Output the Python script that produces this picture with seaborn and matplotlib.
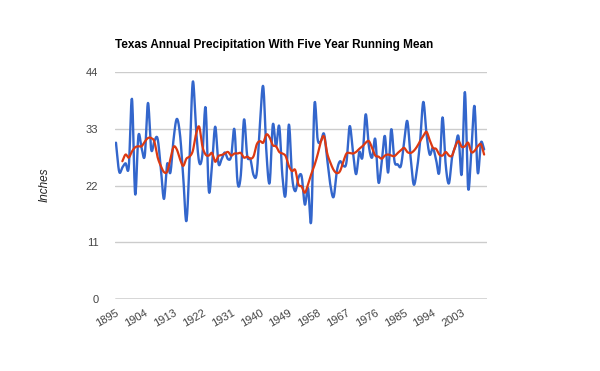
import numpy as np
import pandas as pd
import matplotlib
matplotlib.use("Agg")
import matplotlib.pyplot as plt
import seaborn as sns

years = list(range(1895, 2011))
precip = [30.3, 24.7, 25.5, 26.3, 25.6, 38.8, 20.3, 31.6, 29.3, 27.8,
          38.0, 29.0, 30.6, 31.1, 25.5, 19.4, 26.2, 24.5, 31.0, 34.9,
          31.9, 23.8, 15.1, 27.0, 42.1, 33.0, 26.5, 28.0, 37.1, 21.0,
          26.0, 33.4, 26.3, 27.1, 28.4, 27.1, 27.7, 32.9, 22.5, 24.0,
          34.8, 27.7, 27.1, 24.0, 24.5, 34.1, 41.2, 28.4, 22.5, 33.8,
          29.6, 33.5, 23.8, 20.3, 33.8, 23.8, 20.9, 23.5, 23.8, 18.3,
          21.5, 15.2, 37.7, 30.9, 30.6, 32.0, 27.0, 22.0, 19.8, 24.8,
          26.7, 25.8, 26.5, 33.5, 28.7, 24.2, 28.5, 27.5, 35.8, 29.6,
          27.4, 31.0, 22.6, 26.5, 31.6, 24.5, 32.9, 26.7, 26.1, 25.8,
          30.3, 34.5, 27.7, 22.2, 25.0, 30.5, 38.2, 32.0, 28.0, 29.3,
          27.0, 24.6, 35.2, 26.0, 22.4, 27.5, 29.5, 31.5, 24.2, 40.1,
          21.5, 28.7, 37.4, 24.5, 30.3, 29.0]
running_mean = [None, None, 26.7, 28.0, 27.4, 28.6, 29.4, 29.6, 29.6, 30.5,
                31.2, 31.2, 30.5, 27.5, 25.8, 24.6, 24.7, 27.1, 29.5, 29.0,
                27.1, 25.8, 27.2, 27.6, 28.7, 31.9, 33.4, 29.6, 28.0, 27.8,
                28.3, 26.6, 27.7, 27.9, 28.2, 28.5, 27.8, 28.2, 28.2, 28.3,
                27.4, 27.6, 27.2, 27.7, 30.0, 30.6, 30.3, 31.9, 31.3, 29.8,
                29.6, 28.5, 28.2, 27.7, 25.8, 24.8, 25.0, 22.2, 21.8, 20.6,
                22.2, 24.2, 25.9, 28.0, 30.5, 31.5, 28.2, 26.4, 25.0, 24.4,
                24.8, 26.6, 28.2, 28.3, 28.2, 28.5, 29.1, 29.6, 30.3, 30.6,
                29.3, 27.8, 27.6, 27.2, 27.8, 28.0, 27.8, 27.7, 28.3, 28.8,
                29.3, 28.5, 28.3, 28.7, 29.5, 30.6, 31.6, 32.4, 30.8, 29.3,
                29.1, 28.0, 27.8, 28.5, 27.8, 27.8, 29.6, 30.6, 29.5, 29.6,
                30.3, 28.5, 28.7, 29.6, 30.0, 28.0]
y_ticks = [0, 11, 22, 33, 44]
x_ticks = [1895, 1904, 1913, 1922, 1931, 1940, 1949, 1958, 1967, 1976, 1985, 1994, 2003]
title = "Texas Annual Precipitation With Five Year Running Mean"
y_label = "Inches"


def smooth(xs, ys, n=12):
    """Catmull-Rom rendering of a line through the given points (curved line style)."""
    xs = np.asarray(xs, float)
    ys = np.asarray(ys, float)
    px = np.concatenate([[2 * xs[0] - xs[1]], xs, [2 * xs[-1] - xs[-2]]])
    py = np.concatenate([[2 * ys[0] - ys[1]], ys, [2 * ys[-1] - ys[-2]]])
    ox, oy = [], []
    t = np.linspace(0, 1, n, endpoint=False)
    for i in range(1, len(px) - 2):
        for arr, out in ((px, ox), (py, oy)):
            p0, p1, p2, p3 = arr[i - 1], arr[i], arr[i + 1], arr[i + 2]
            out.extend(0.5 * ((2 * p1) + (-p0 + p2) * t +
                              (2 * p0 - 5 * p1 + 4 * p2 - p3) * t ** 2 +
                              (-p0 + 3 * p1 - 3 * p2 + p3) * t ** 3))
    ox.append(xs[-1])
    oy.append(ys[-1])
    return np.array(ox), np.array(oy)


df = pd.DataFrame({"year": years, "precip": precip,
                   "mean": pd.to_numeric(pd.Series(running_mean), errors="coerce")})

sns.set_theme(style="white")
plt.rcParams["font.family"] = ["Liberation Sans", "DejaVu Sans"]

fig = plt.figure(figsize=(6.0, 3.71), dpi=100)
ax = fig.add_axes([115 / 600, 1 - 299 / 371, 372 / 600, 227 / 371])

bx, by = smooth(df["year"], df["precip"])
sub = df.dropna(subset=["mean"])
rx, ry = smooth(sub["year"], sub["mean"])

sns.lineplot(x=bx, y=by, ax=ax, color="#3366cc", linewidth=1.7, sort=False,
             estimator=None, zorder=3)
sns.lineplot(x=rx, y=ry, ax=ax, color="#dc3912", linewidth=1.6, sort=False,
             estimator=None, zorder=4)

ax.set_xlim(1894.7, 2010.9)
ax.set_ylim(0, 44)
ax.set_yticks(y_ticks)
ax.set_xticks(x_ticks)
ax.set_xticklabels([str(v) for v in x_ticks], rotation=30, ha="right",
                   rotation_mode="anchor", fontsize=8, color="#444444")
ax.set_yticklabels([str(v) for v in y_ticks], fontsize=8, color="#444444")
ax.tick_params(axis="y", length=0, pad=12)
ax.tick_params(axis="x", length=0, pad=6)
for s in ax.spines.values():
    s.set_visible(False)
ax.grid(False)
for v in y_ticks[1:]:
    ax.axhline(v, color="#cccccc", linewidth=1.0, zorder=1)
ax.axhline(0, color="#333333", linewidth=1.0, zorder=2)
ax.set_xlabel("")
ax.set_ylabel("")

fig.text(115 / 600, 1 - 45 / 371, title, fontsize=8.5, fontweight="bold",
         color="#000000", ha="left", va="center")
fig.text(45 / 600, 1 - 185 / 371, y_label, fontsize=8.5, fontstyle="italic",
         color="#222222", rotation=90, ha="center", va="center")

fig.savefig("out.png", dpi=100)
